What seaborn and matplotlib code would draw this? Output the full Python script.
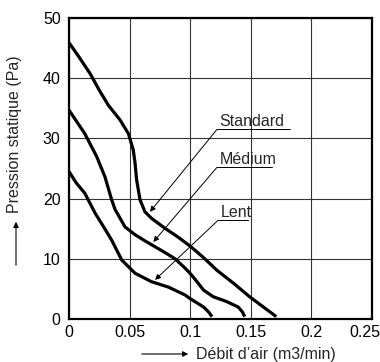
import numpy as np
import pandas as pd
import seaborn as sns
import matplotlib
matplotlib.use("Agg")
import matplotlib.pyplot as plt
import matplotlib.transforms as mtransforms

# ---- data ----
std_x = [0.0, 0.008, 0.0173, 0.0250, 0.0325, 0.042, 0.049, 0.053, 0.0545, 0.0558, 0.0586, 0.0627, 0.0682, 0.079, 0.090, 0.100, 0.111, 0.122, 0.136, 0.149, 0.161, 0.171]
std_y = [45.9, 43.6, 40.8, 38.0, 35.5, 33.1, 30.8, 28.1, 25.9, 23.1, 19.8, 17.8, 16.7, 15.1, 13.6, 12.1, 10.2, 8.1, 5.9, 3.7, 1.9, 0.4]

med_x = [0.0, 0.013, 0.0228, 0.0297, 0.0352, 0.038, 0.0462, 0.0545, 0.0625, 0.071, 0.0795, 0.0875, 0.0950, 0.0998, 0.104, 0.111, 0.119, 0.130, 0.1395, 0.143, 0.145]
med_y = [34.7, 30.8, 27.0, 23.6, 19.8, 18.2, 15.3, 14.0, 13.0, 12.0, 11.0, 10.0, 8.6, 7.6, 6.6, 4.8, 3.7, 2.9, 2.0, 1.2, 0.4]

lent_x = [0.0, 0.006, 0.013, 0.0215, 0.028, 0.0352, 0.0435, 0.0545, 0.068, 0.082, 0.0957, 0.0998, 0.111, 0.115, 0.118]
lent_y = [24.5, 22.6, 20.9, 17.6, 15.5, 13.1, 9.8, 7.6, 6.2, 5.3, 4.0, 3.4, 2.0, 1.2, 0.4]

series_names = ["Standard", "Médium", "Lent"]
x_ticks = [0, 0.05, 0.1, 0.15, 0.2, 0.25]
x_tick_labels = ["0", "0.05", "0.1", "0.15", "0.2", "0.25"]
y_ticks = [0, 10, 20, 30, 40, 50]

df = pd.concat([
    pd.DataFrame({"x": std_x, "y": std_y, "s": "Standard"}),
    pd.DataFrame({"x": med_x, "y": med_y, "s": "Médium"}),
    pd.DataFrame({"x": lent_x, "y": lent_y, "s": "Lent"}),
], ignore_index=True)

sns.set_style("white")
plt.rcParams["font.family"] = ["Liberation Sans", "DejaVu Sans"]
FS = 11.5

fig = plt.figure(figsize=(3.8, 3.62), dpi=100)
ax = fig.add_axes([69 / 380, 43 / 362, 303 / 380, 301 / 362])

for name in series_names:
    sns.lineplot(data=df[df["s"] == name], x="x", y="y", sort=False,
                 color="black", lw=2.3, ax=ax, estimator=None)
for ln in ax.lines:
    ln.set_solid_joinstyle("round")
    ln.set_solid_capstyle("butt")

ax.set_xlim(0, 0.25)
ax.set_ylim(0, 50)
ax.set_xticks(x_ticks)
ax.set_xticklabels(x_tick_labels)
ax.set_yticks(y_ticks)
ax.tick_params(axis="both", length=0, labelsize=FS, colors="black")
ax.tick_params(axis="y", pad=6)
ax.tick_params(axis="x", pad=4)
last = ax.get_xticklabels()[-1]
last.set_transform(last.get_transform() +
                   mtransforms.ScaledTranslation(-7 / 100, 0, fig.dpi_scale_trans))
ax.grid(True, color="#333333", lw=0.8)
ax.set_axisbelow(True)
for sp in ax.spines.values():
    sp.set_visible(True)
    sp.set_color("black")
    sp.set_linewidth(1.6)
ax.set_xlabel("")
ax.set_ylabel("")

# ---- annotations (label, underline left/right x, underline y, arrow tip) ----
ann_labels = ["Standard", "Médium", "Lent"]
ann_x0 = [0.1221, 0.1221, 0.1230]
ann_x1 = [0.1823, 0.1675, 0.1477]
ann_y = [31.5, 25.2, 16.4]
tip_x = [0.0668, 0.0696, 0.0710]
tip_y = [17.8, 12.8, 6.5]
for lab, x0, x1, y0, tx, ty in zip(ann_labels, ann_x0, ann_x1, ann_y, tip_x, tip_y):
    ax.plot([x0, x1], [y0, y0], color="black", lw=0.7)
    ax.text(x0 + 0.002, y0 + 0.6, lab, fontsize=FS, ha="left", va="baseline")
    ax.annotate("", xy=(tx, ty), xytext=(x0, y0),
                arrowprops=dict(arrowstyle="-|>", lw=0.7, color="black",
                                mutation_scale=8, shrinkA=0, shrinkB=0))

# ---- axis titles with arrows ----
fig.text(196 / 380, 1 - 355 / 362, "Débit d’air (m3/min)", fontsize=FS,
         ha="left", va="center")
fig.add_artist(matplotlib.patches.FancyArrowPatch(
    (139 / 380, 1 - 354 / 362), (191 / 380, 1 - 354 / 362),
    transform=fig.transFigure, arrowstyle="-|>", mutation_scale=8,
    lw=0.8, color="black"))

fig.text(15 / 380, 1 - 213 / 362, "Pression statique (Pa)", fontsize=11.5,
         rotation=90, ha="center", va="bottom")
fig.add_artist(matplotlib.patches.FancyArrowPatch(
    (16 / 380, 1 - 268 / 362), (16 / 380, 1 - 219 / 362),
    transform=fig.transFigure, arrowstyle="-|>", mutation_scale=8,
    lw=0.8, color="black"))

fig.savefig("out.png", dpi=100)
